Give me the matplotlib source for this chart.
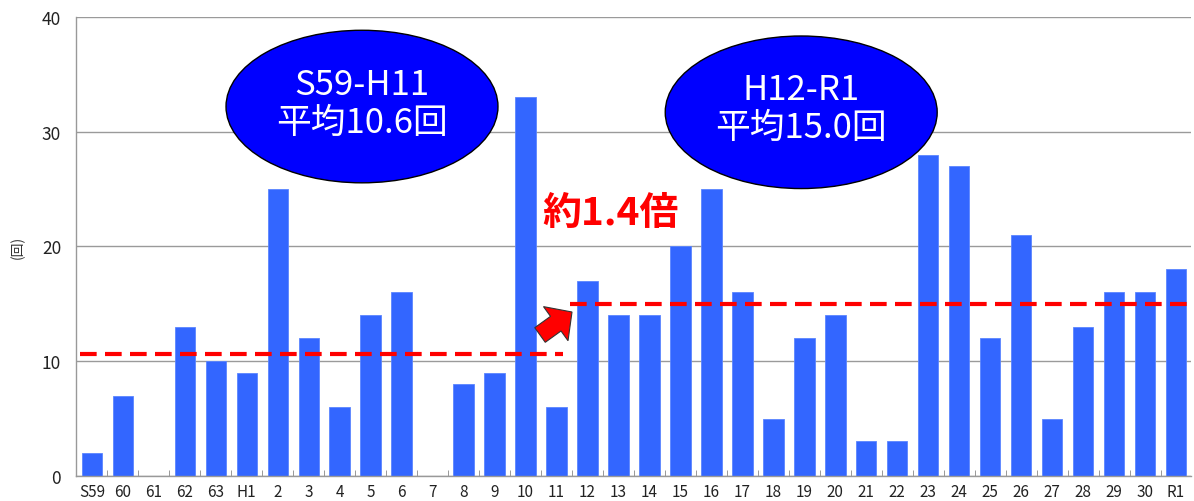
import matplotlib
matplotlib.use("Agg")
import matplotlib.pyplot as plt
from matplotlib.patches import Ellipse, FancyArrow

plt.rcParams['font.family'] = ['Noto Sans CJK JP', 'DejaVu Sans']

years = ["S59", "60", "61", "62", "63", "H1", "2", "3", "4", "5", "6", "7",
         "8", "9", "10", "11", "12", "13", "14", "15", "16", "17", "18", "19",
         "20", "21", "22", "23", "24", "25", "26", "27", "28", "29", "30", "R1"]
counts = [2, 7, 0, 13, 10, 9, 25, 12, 6, 14, 16, 0,
          8, 9, 33, 6, 17, 14, 14, 20, 25, 16, 5, 12,
          14, 3, 3, 28, 27, 12, 21, 5, 13, 16, 16, 18]

avg_early = 10.6   # S59-H11
avg_late = 15.0    # H12-R1
split = 16         # index of H12

fig = plt.figure(figsize=(11.94, 5.02), dpi=100)
ax = fig.add_axes([0.064, 0.05, 0.9339, 0.914])

x = list(range(len(years)))
ax.bar(x, counts, width=0.66, color="#3366ff", edgecolor="#5b85ff", linewidth=0.6, zorder=2)

ax.set_xlim(-0.5, len(years) - 0.5)
ax.set_ylim(0, 40)
ax.set_yticks([0, 10, 20, 30, 40])
ax.set_xticks(x)
ax.set_xticklabels(years)
ax.set_xticks([i + 0.5 for i in x[:-1]], minor=True)
ax.tick_params(axis="x", which="major", length=0, pad=5, labelsize=11, labelcolor="#222222")
ax.tick_params(axis="x", which="minor", direction="in", length=4, color="#888888")
ax.tick_params(axis="y", length=0, pad=11, labelsize=12.5, labelcolor="#222222")
ax.grid(axis="y", color="#9a9a9a", linewidth=1.0, zorder=0)
for s in ["top", "right"]:
    ax.spines[s].set_visible(False)
for s in ["left", "bottom"]:
    ax.spines[s].set_color("#999999")
    ax.spines[s].set_linewidth(1.0)

ax.set_ylabel("(回)", fontsize=10, color="#333333")
ax.yaxis.set_label_coords(-0.046, 0.5)

# period averages
ax.plot([-0.4, split - 0.8], [avg_early, avg_early], color="#ff0000", lw=3,
        dashes=(4, 2), zorder=3)
ax.plot([split - 0.55, len(years) - 0.6], [avg_late, avg_late], color="#ff0000", lw=3,
        dashes=(4, 2), zorder=3)

# bubbles
bubbles = [(8.72, 32.2, "S59-H11", avg_early), (22.9, 31.7, "H12-R1", avg_late)]
for cx, cy, span, avg in bubbles:
    ax.add_patch(Ellipse((cx, cy), 8.78, 13.3, facecolor="#0000ff",
                         edgecolor="black", linewidth=1.0, zorder=4, clip_on=False))
    ax.text(cx, cy + 0.3, f"{span}\n平均{avg:.1f}回", color="white", fontsize=25,
            ha="center", va="center", linespacing=1.1, zorder=5)

ax.text(16.73, 23.0, f"約{avg_late / avg_early:.1f}倍", color="#ff0000", fontsize=28,
        fontweight="bold", ha="center", va="center", zorder=5)

fig.patches.append(FancyArrow(5.40, 1.66, 0.32, 0.23, width=0.18, head_width=0.42,
                              head_length=0.2, length_includes_head=True,
                              facecolor="#ff0000", edgecolor="#333333", linewidth=0.8,
                              transform=fig.dpi_scale_trans, figure=fig, zorder=6))

fig.savefig("out.png", dpi=100)
